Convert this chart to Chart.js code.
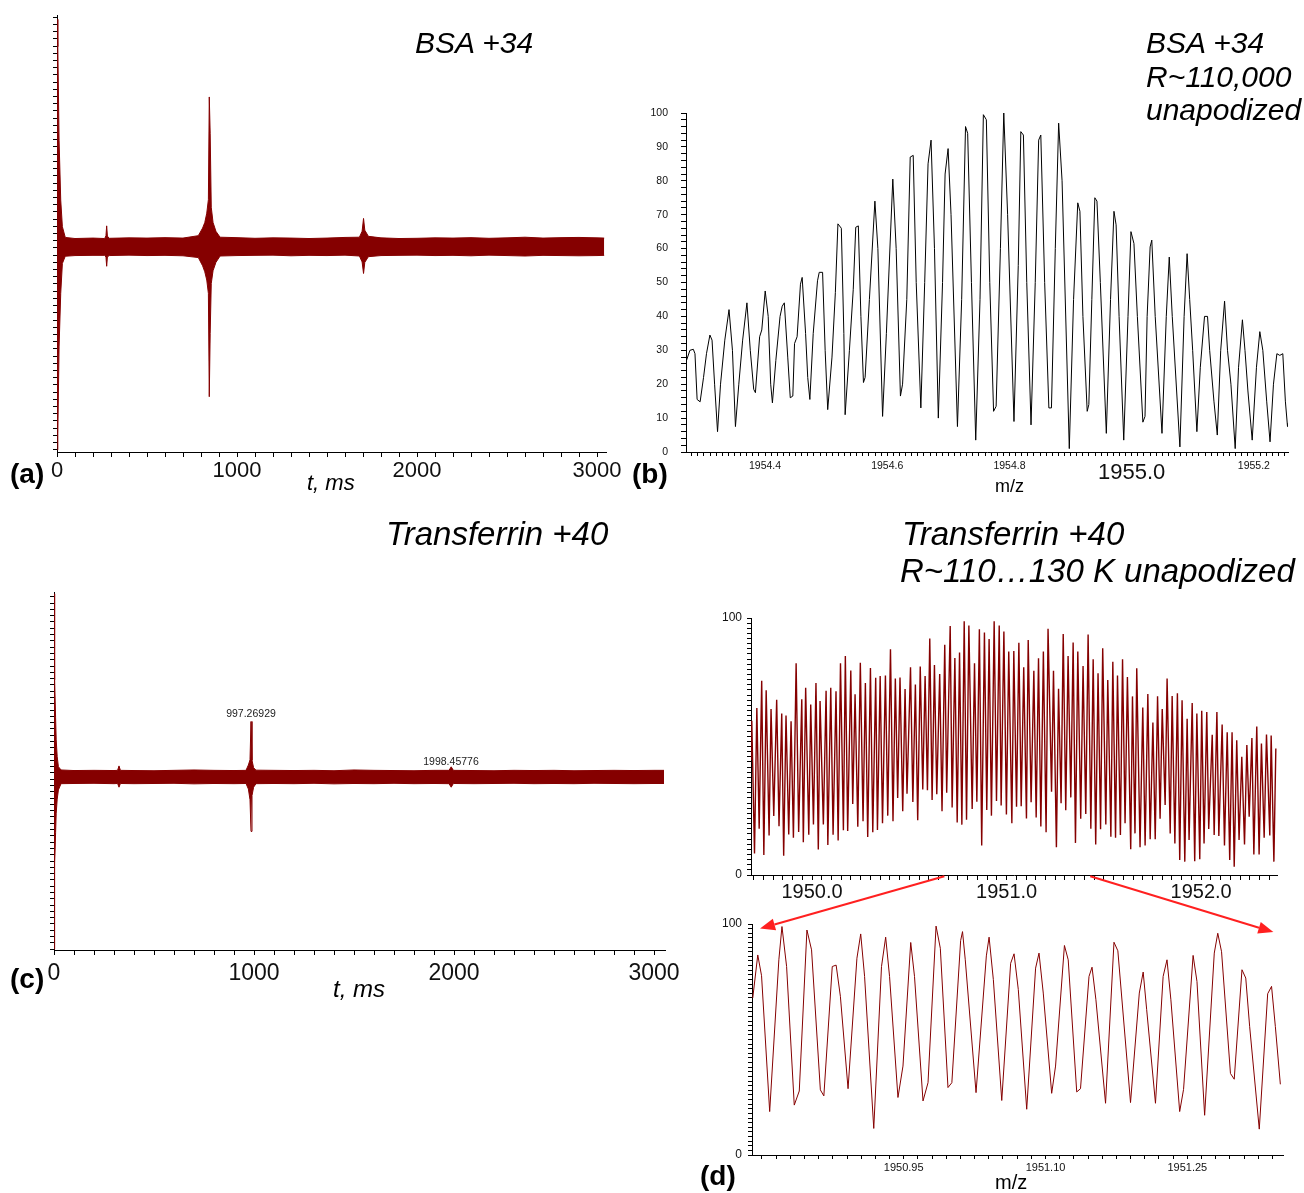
<!DOCTYPE html>
<html>
<head>
<meta charset="utf-8">
<script src="https://cdn.jsdelivr.net/npm/chart.js@4.4.1/dist/chart.umd.min.js"></script>
<style>
  body { margin: 0; background: #fff; }
  #page { position: relative; width: 1304px; height: 1193px; overflow: hidden; font-family: "Liberation Sans", Arial, sans-serif; }
  canvas { position: absolute; }
  .t { position: absolute; line-height: 1; white-space: nowrap; color: #000; }
  .it { font-style: italic; }
  .b { font-weight: bold; }
</style>
</head>
<body>
<div id="page">
  <canvas id="cA" width="640" height="500" style="left:0;top:0"></canvas>
  <canvas id="cB" width="670" height="410" style="left:630px;top:90px"></canvas>
  <canvas id="cC" width="700" height="430" style="left:0;top:570px"></canvas>
  <canvas id="cD1" width="600" height="310" style="left:700px;top:600px"></canvas>
  <canvas id="cD2" width="600" height="288" style="left:700px;top:905px"></canvas>
  <canvas id="overlay" width="1304" height="1193" style="left:0;top:0;pointer-events:none"></canvas>

  <div class="t it" style="left:415px;top:27.6px;font-size:30px">BSA +34</div>
  <div class="t it" style="left:1146px;top:27.6px;font-size:30px">BSA +34</div>
  <div class="t it" style="left:1146px;top:61.6px;font-size:30px">R~110,000</div>
  <div class="t it" style="left:1146px;top:94.6px;font-size:30px">unapodized</div>
  <div class="t it" style="left:386px;top:517px;font-size:33px">Transferrin +40</div>
  <div class="t it" style="left:902px;top:517px;font-size:33px">Transferrin +40</div>
  <div class="t it" style="left:900px;top:554px;font-size:33px">R~110…130 K unapodized</div>

  <div class="t b" style="left:10px;top:460px;font-size:28px">(a)</div>
  <div class="t b" style="left:632px;top:460px;font-size:28px">(b)</div>
  <div class="t b" style="left:10px;top:965px;font-size:28px">(c)</div>
  <div class="t b" style="left:700px;top:1162px;font-size:28px">(d)</div>

  <div class="t it" style="left:307px;top:472px;font-size:22px">t, ms</div>
  <div class="t it" style="left:333px;top:977px;font-size:24px">t, ms</div>
  <div class="t" style="left:995px;top:477px;font-size:18px">m/z</div>
  <div class="t" style="left:995px;top:1172px;font-size:20px">m/z</div>
</div>

<script>
"use strict";

const FONT = '"Liberation Sans", Arial, sans-serif';
const MAROON = '#850000';

// (a) BSA +34 transient: envelope of the noise band, time in ms
const aTimeMs = [0, 4.6, 11.5, 20.7, 29.9, 46, 100, 200, 265, 272, 276, 280, 290, 400, 500, 600, 700, 785,
  809, 821, 832, 841, 846, 851, 857, 867, 883, 906, 1000, 1100, 1200, 1300, 1400, 1500, 1600,
  1680, 1695, 1703, 1710, 1730, 1800, 1900, 2000, 2100, 2200, 2300, 2400, 2500, 2600, 2700, 2800, 2900, 3000, 3040];
const aUpper = [104, 91.5, 48.7, 21.3, 9.1, 4.2, 3.7, 3.9, 3.7, 5.0, 9.5, 4.8, 3.8, 4.0, 3.9, 4.1, 3.9, 5.0,
  8.5, 11.0, 15.3, 21.5, 68.5, 51.9, 18.0, 11.0, 7.0, 4.3, 4.1, 3.8, 4.0, 3.9, 3.7, 3.9, 4.2,
  4.3, 7.0, 12.9, 7.5, 4.7, 4.0, 3.7, 3.8, 4.0, 3.9, 4.1, 3.8, 4.0, 4.3, 3.9, 4.1, 4.2, 4.0, 3.9];
const aLower = [-93, -85.5, -45.9, -21.4, -7.7, -4.4, -4.1, -4.0, -4.0, -4.8, -9.0, -4.7, -4.1, -3.9, -4.1, -4.0, -4.2, -5.0,
  -8.8, -11.5, -15.3, -21.4, -68.7, -39.7, -16.9, -11.0, -7.2, -4.3, -4.1, -4.0, -3.9, -4.2, -4.0, -4.1, -3.9,
  -4.3, -7.0, -12.3, -7.2, -4.6, -4.1, -4.0, -3.9, -4.1, -4.0, -4.2, -3.9, -4.1, -4.3, -4.0, -4.1, -4.2, -4.1, -4.0];

// (c) Transferrin +40 transient envelope
const cTimeMs = [0, 2, 4.4, 8, 11, 16, 22, 35, 100, 200, 300, 318, 325, 332, 400, 500, 600, 700, 800, 900,
  960, 972, 980, 985, 990, 998, 1010, 1100, 1200, 1300, 1400, 1500, 1600, 1700, 1800, 1900,
  1975, 1986, 1997, 2100, 2200, 2300, 2400, 2500, 2600, 2700, 2800, 2900, 3000, 3050];
const cUpper = [99, 75, 52.5, 32, 20.1, 11, 5.6, 3.8, 3.5, 3.6, 3.5, 3.6, 6.0, 3.6, 3.5, 3.4, 3.6, 3.8, 3.6, 3.5,
  3.6, 6.5, 9.3, 30.0, 9.0, 5.0, 3.7, 3.6, 3.5, 3.6, 3.4, 3.8, 3.6, 3.5, 3.4, 3.6,
  3.6, 5.5, 3.6, 3.5, 3.4, 3.6, 3.5, 3.6, 3.4, 3.5, 3.6, 3.5, 3.6, 3.6];
const cLower = [-93, -72, -46.6, -30, -19.6, -12, -7.0, -3.6, -3.5, -3.4, -3.6, -3.5, -5.5, -3.5, -3.6, -3.5, -3.4, -3.7, -3.5, -3.6,
  -3.5, -6.5, -12.3, -29.4, -10, -5.5, -3.6, -3.5, -3.6, -3.4, -3.7, -3.5, -3.6, -3.4, -3.6, -3.5,
  -3.6, -5.5, -3.5, -3.6, -3.5, -3.4, -3.6, -3.5, -3.6, -3.4, -3.5, -3.6, -3.5, -3.5];
const cPeakTimes = [985, 1985];
const cPeakLevels = [34, 8.1];
const cPeakTexts = ['997.26929', '1998.45776'];

// (b) BSA +34 spectrum
const bMz = [
  1954.2715, 1954.2771, 1954.2827, 1954.2854, 1954.2889, 1954.2938, 1954.2994, 1954.3042, 1954.3098, 1954.3133,
  1954.3175, 1954.3223, 1954.3272, 1954.3342, 1954.3411, 1954.3467, 1954.3516, 1954.3571, 1954.3634, 1954.3704,
  1954.3759, 1954.3815, 1954.3843, 1954.3912, 1954.3947, 1954.4003, 1954.4052, 1954.4093, 1954.4121, 1954.4177,
  1954.4246, 1954.4281, 1954.4316, 1954.4372, 1954.4413, 1954.4455, 1954.4483, 1954.4525, 1954.4580, 1954.4608,
  1954.4664, 1954.4699, 1954.4734, 1954.4789, 1954.4859, 1954.4887, 1954.4942, 1954.4984, 1954.5026, 1954.5096,
  1954.5151, 1954.5193, 1954.5249, 1954.5290, 1954.5311, 1954.5381, 1954.5444, 1954.5485, 1954.5527, 1954.5569,
  1954.5611, 1954.5638, 1954.5708, 1954.5798, 1954.5847, 1954.5924, 1954.5986, 1954.6091, 1954.6146, 1954.6216,
  1954.6251, 1954.6320, 1954.6376, 1954.6425, 1954.6474, 1954.6550, 1954.6613, 1954.6668, 1954.6717, 1954.6773,
  1954.6836, 1954.6905, 1954.6947, 1954.6996, 1954.7044, 1954.7149, 1954.7218, 1954.7281, 1954.7316, 1954.7378,
  1954.7448, 1954.7518, 1954.7573, 1954.7622, 1954.7678, 1954.7740, 1954.7782, 1954.7852, 1954.7907, 1954.7970,
  1954.8074, 1954.8144, 1954.8186, 1954.8228, 1954.8283, 1954.8353, 1954.8422, 1954.8478, 1954.8513, 1954.8576,
  1954.8645, 1954.8687, 1954.8750, 1954.8805, 1954.8861, 1954.8979, 1954.9049, 1954.9118, 1954.9153, 1954.9202,
  1954.9272, 1954.9299, 1954.9348, 1954.9397, 1954.9432, 1954.9487, 1954.9585, 1954.9654, 1954.9710, 1954.9745,
  1954.9794, 1954.9870, 1954.9940, 1954.9988, 1955.0037, 1955.0093, 1955.0183, 1955.0218, 1955.0253, 1955.0302,
  1955.0329, 1955.0385, 1955.0496, 1955.0566, 1955.0615, 1955.0664, 1955.0789, 1955.0858, 1955.0907, 1955.0949,
  1955.0998, 1955.1067, 1955.1123, 1955.1192, 1955.1241, 1955.1276, 1955.1346, 1955.1401, 1955.1457, 1955.1520,
  1955.1568, 1955.1624, 1955.1694, 1955.1749, 1955.1812, 1955.1854, 1955.1902, 1955.1972, 1955.2042, 1955.2097,
  1955.2146, 1955.2209, 1955.2264, 1955.2320, 1955.2376, 1955.2424, 1955.2473, 1955.2515, 1955.2550, 1955.2555];
const bIntensity = [
  27, 30, 30.3, 29, 15.5, 14.8, 22, 29, 34.5, 33,
  20, 6, 20, 33, 42, 30, 7.5, 20, 33, 44,
  30, 18.5, 17.5, 34, 36, 47.5, 40, 20, 14.5, 27,
  40, 43, 44, 28, 16, 16.5, 32, 34, 49.5, 51.5,
  35, 22, 15.5, 35, 50.5, 53, 53, 30, 12.5, 28,
  47, 67.3, 66, 35, 11, 30, 48, 66.3, 66.7, 40,
  20.5, 22, 45, 74, 60, 10.5, 35, 80.5, 60, 16.5,
  20, 45, 87, 87.5, 50, 13, 50, 85, 92, 60,
  10, 50, 82, 89.5, 70, 7.5, 45, 96, 94, 50,
  3.5, 45, 99.5, 98, 50, 12, 13.5, 60, 100, 70,
  9, 55, 94.5, 93.5, 50, 8, 50, 92, 93.5, 50,
  13, 13, 60, 97, 80, 1, 45, 73.5, 71, 40,
  12, 14, 45, 75, 74, 50, 5.5, 45, 71, 67,
  40, 3.5, 40, 65, 61.5, 40, 8.8, 10.5, 40, 60.5,
  62.5, 40, 5.5, 40, 57.5, 40, 1.5, 40, 58.5, 45,
  30, 6, 25, 40, 40, 30, 15, 5, 30, 44.5,
  30, 20, 1, 25, 39, 30, 18, 3.5, 25, 35.5,
  30, 15, 3, 20, 29, 28.5, 29, 15, 7.5, 8.5];

// (d) Transferrin +40 spectrum, wide view
const dTopMz = [
  1949.687, 1949.690, 1949.704, 1949.716, 1949.728, 1949.741, 1949.752, 1949.764, 1949.779, 1949.789,
  1949.803, 1949.818, 1949.830, 1949.844, 1949.854, 1949.866, 1949.880, 1949.892, 1949.904, 1949.918,
  1949.931, 1949.947, 1949.955, 1949.967, 1949.983, 1949.993, 1950.007, 1950.020, 1950.032, 1950.041,
  1950.058, 1950.072, 1950.081, 1950.096, 1950.108, 1950.123, 1950.134, 1950.146, 1950.161, 1950.171,
  1950.183, 1950.199, 1950.209, 1950.221, 1950.235, 1950.248, 1950.262, 1950.274, 1950.286, 1950.300,
  1950.312, 1950.327, 1950.336, 1950.350, 1950.362, 1950.377, 1950.389, 1950.403, 1950.416, 1950.428,
  1950.440, 1950.452, 1950.466, 1950.478, 1950.488, 1950.506, 1950.518, 1950.531, 1950.543, 1950.556,
  1950.569,
  1950.581, 1950.593, 1950.605, 1950.617, 1950.629, 1950.641, 1950.656, 1950.668, 1950.682, 1950.692,
  1950.710, 1950.720, 1950.734, 1950.746, 1950.758, 1950.770, 1950.782, 1950.794, 1950.806, 1950.823,
  1950.835, 1950.847, 1950.860, 1950.872, 1950.886, 1950.898, 1950.910, 1950.922, 1950.936, 1950.948,
  1950.962, 1950.972, 1950.986, 1950.999, 1951.011, 1951.027, 1951.037, 1951.051, 1951.063, 1951.075,
  1951.088, 1951.102, 1951.111, 1951.126, 1951.140, 1951.152, 1951.164, 1951.176, 1951.189, 1951.203,
  1951.213, 1951.231, 1951.241, 1951.256, 1951.267, 1951.280, 1951.291, 1951.304, 1951.316, 1951.330,
  1951.342, 1951.354, 1951.366, 1951.381, 1951.393, 1951.407, 1951.419, 1951.433, 1951.445, 1951.458,
  1951.470, 1951.483,
  1951.494, 1951.510, 1951.520, 1951.536, 1951.546, 1951.560, 1951.570, 1951.585, 1951.596, 1951.609,
  1951.621, 1951.638, 1951.647, 1951.660, 1951.669, 1951.686, 1951.700, 1951.712, 1951.726, 1951.738,
  1951.752, 1951.764, 1951.776, 1951.789, 1951.800, 1951.815, 1951.825, 1951.841, 1951.851, 1951.865,
  1951.878, 1951.890, 1951.902, 1951.916, 1951.928, 1951.938, 1951.954, 1951.967, 1951.978, 1951.993,
  1952.003, 1952.015, 1952.029, 1952.039, 1952.057, 1952.067, 1952.081, 1952.091, 1952.108, 1952.120,
  1952.134, 1952.147, 1952.159, 1952.170, 1952.183, 1952.195, 1952.209, 1952.223, 1952.235, 1952.247,
  1952.261, 1952.271, 1952.286, 1952.298, 1952.310, 1952.324, 1952.336, 1952.353, 1952.360, 1952.374,
  1952.384];
const dTopIntensity = [
  45, 60, 8.4, 65, 18, 75.6, 7.8, 71.9, 15.4, 64.6,
  23, 68.2, 19, 62.8, 7.5, 62.1, 15.8, 59.8, 14.5, 82.4,
  16.7, 68.4, 12.7, 72.9, 15.7, 66.3, 19.7, 74.7, 9.9, 67.7,
  19.7, 71.7, 11.7, 72.9, 15.7, 71.5, 13.4, 82.4, 17.4, 85.2,
  17.1, 79.6, 27.6, 70.3, 18.8, 82.6, 20.9, 74.7, 14.8, 80.5,
  16.6, 76.7, 17.5, 77.4, 20.1, 77.6, 23.1, 87.8, 20.9, 76.5,
  30, 76.8, 24.8, 72.4, 31.6, 80.8, 28.4, 74.1, 21.3, 81.1,
  33.3,
  77.4, 33, 92, 29.2, 81.7, 31.4, 78.2, 24.8, 89.6, 32,
  96.9, 26.3, 84.4, 20.4, 86.6, 19.6, 98.7, 21.5, 97.1, 25.7,
  82.4, 28.5, 95.6, 11.5, 94.4, 25.3, 91.8, 23.1, 98.7, 28.8,
  97.1, 27, 94.7, 23.5, 87, 20.1, 87.2, 26.6, 90.4, 26.8,
  80.8, 22, 91.4, 28.3, 79.5, 22.4, 84.3, 18.9, 87, 16.6,
  95.8, 32.4, 79.5, 10.8, 72.5, 27.9, 93.8, 25.2, 85.2, 30.2,
  90.5, 12.5, 87, 21.9, 81.3, 23.7, 93.6, 18, 83.9, 11.9,
  78.5, 17.8,
  88.2, 19.7, 75.9, 14.9, 83, 14.5, 77.6, 15.6, 83.9, 20.1,
  77, 10, 69.5, 16.2, 80.4, 10.8, 65.2, 11.5, 70.4, 13.9,
  59.3, 13.9, 69.5, 21.9, 64.6, 27.2, 76.5, 16.2, 69.6, 12.3,
  70.7, 5.8, 68, 5.2, 60.8, 13.6, 66.9, 5.4, 62.8, 6.1,
  63.9, 12.3, 63.4, 17.9, 54.6, 15.6, 63.4, 15.2, 58.6, 11.5,
  55.5, 5.8, 55.5, 3.2, 52.4, 13.6, 46, 11.9, 50.6, 22.7,
  53.3, 8, 57.8, 8, 51.2, 14.5, 54.7, 15.4, 54.3, 5.2,
  49.2];

// (d) Transferrin +40 spectrum, zoomed view
const dBotMz = [
  1950.7903, 1950.7956, 1950.7996, 1950.8082, 1950.8179, 1950.8212, 1950.8261, 1950.8342, 1950.8395, 1950.8476,
  1950.8525, 1950.8618, 1950.8655, 1950.8744, 1950.8785, 1950.8830, 1950.8911, 1950.9005, 1950.9045, 1950.9086,
  1950.9183, 1950.9265, 1950.9309, 1950.9350, 1950.9439, 1950.9492, 1950.9574, 1950.9614, 1950.9704, 1950.9757,
  1950.9842, 1950.9887, 1950.9968, 1951.0009, 1951.0102, 1951.0122, 1951.0151, 1951.0265, 1951.0374, 1951.0403,
  1951.0448, 1951.0537, 1951.0631, 1951.0667, 1951.0712, 1951.0801, 1951.0895, 1951.0931, 1951.0976, 1951.1065,
  1951.1106, 1951.1200, 1951.1240, 1951.1330, 1951.1370, 1951.1460, 1951.1492, 1951.1533, 1951.1635, 1951.1724,
  1951.1765, 1951.1899, 1951.1992, 1951.2033, 1951.2070, 1951.2163, 1951.2244, 1951.2285, 1951.2326, 1951.2419,
  1951.2460, 1951.2561, 1951.2602, 1951.2683, 1951.2785, 1951.2822, 1951.2862, 1951.2956, 1951.2996, 1951.3078,
  1951.3118, 1951.3159, 1951.3261, 1951.3350, 1951.3391, 1951.3431, 1951.3484];
const dBotIntensity = [
  68, 86.6, 77.6, 18.8, 84.5, 98.9, 81.6, 21.6, 27.7, 97.4,
  88.8, 28.2, 25.6, 81.6, 82.2, 68.7, 28.7, 85.2, 95.7, 77.3,
  11.5, 81.6, 94.3, 77.3, 24.9, 38.5, 92, 77.3, 23.4, 31.3,
  99.1, 89.5, 29.2, 31.3, 92.8, 96.7, 84.5, 27, 86.2, 94.3,
  75.9, 23.6, 83, 87.1, 71.6, 19.8, 80.9, 87.4, 70.1, 26.7,
  38.5, 90.7, 84.5, 27.3, 28.7, 77.3, 81.3, 67.2, 22.4, 92.1,
  88.4, 22.7, 70.1, 79.2, 62.9, 22.4, 77.3, 84.5, 67.2, 18.8,
  28.4, 86.4, 75.1, 17.2, 87.4, 96, 88, 35.3, 32.8, 80.2,
  76.6, 55.7, 11.2, 69.8, 73, 55.7, 30.6];

// labelled ticks
const aTimeLabels = [0, 1000, 2000, 3000];
const bMzLabels = [1954.4, 1954.6, 1954.8, 1955.0, 1955.2];
const bIntensityLabels = [0, 10, 20, 30, 40, 50, 60, 70, 80, 90, 100];
const dTopMzLabels = [1950, 1951, 1952];
const dBotMzLabels = [1950.95, 1951.10, 1951.25];
const dIntensityLabels = [0, 100];

// arrows: from m/z on the wide axis to points in the zoomed panel
const arrowFromMz = [1950.68, 1951.43];
const arrowToMz = [1950.798, 1951.341];
const arrowToLevel = [98, 96.5];

function steps(from, to, step, digits) {
  const out = [];
  const n = Math.round((to - from) / step);
  for (let i = 0; i <= n; i++) out.push(+(from + i * step).toFixed(digits));
  return out;
}

function pts(xs, ys) {
  return xs.map((x, i) => ({ x: x, y: ys[i] }));
}

function hasLabel(list, v) {
  return list.some(l => Math.abs(l - v) < 1e-6);
}

function axis(o) {
  const horizontal = o.kind === 'x';
  return {
    type: 'linear',
    position: horizontal ? 'bottom' : 'left',
    min: o.min,
    max: o.max,
    afterBuildTicks: s => { s.ticks = o.ticks.map(v => ({ value: v })); },
    afterFit: s => { if (horizontal) s.height = o.size; else s.width = o.size; },
    border: { display: true, color: '#000', width: 1 },
    grid: { drawOnChartArea: false, drawTicks: true, tickLength: o.tickLength, color: '#000', lineWidth: 1 },
    ticks: {
      autoSkip: false,
      maxRotation: 0,
      minRotation: 0,
      padding: o.padding,
      color: '#111',
      font: o.font,
      callback: v => hasLabel(o.labels, v) ? v.toFixed(o.digits) : ''
    }
  };
}

function baseOptions(padding, scales) {
  return {
    responsive: false,
    animation: false,
    events: [],
    layout: { padding: padding },
    plugins: { legend: { display: false }, tooltip: { enabled: false } },
    elements: { point: { radius: 0 }, line: { tension: 0 } },
    scales: scales
  };
}

function band(times, upper, lower) {
  return [
    { data: pts(times, upper), borderColor: MAROON, backgroundColor: MAROON, borderWidth: 1, fill: '+1' },
    { data: pts(times, lower), borderColor: MAROON, borderWidth: 1, fill: false }
  ];
}

// (a)
const chartA = new Chart(document.getElementById('cA'), {
  type: 'line',
  data: { datasets: band(aTimeMs, aUpper, aLower) },
  options: baseOptions({ left: 0, top: 15, right: 34, bottom: 0 }, {
    x: axis({ kind: 'x', min: 0, max: 3050, ticks: steps(0, 3000, 100, 0), labels: aTimeLabels, digits: 0,
      size: 48, tickLength: 5, padding: 1, font: { family: FONT, size: 22 } }),
    y: axis({ kind: 'y', min: -94, max: 106, ticks: steps(-93, 105, 3.3, 2), labels: [], digits: 0,
      size: 57, tickLength: 4, padding: 2, font: { family: FONT, size: 10 } })
  })
});

// (c)
const peakLabelPlugin = {
  id: 'peakLabels',
  afterDatasetsDraw(chart) {
    const ctx = chart.ctx;
    ctx.save();
    ctx.font = '10.5px ' + FONT;
    ctx.fillStyle = '#222';
    ctx.textAlign = 'center';
    ctx.textBaseline = 'middle';
    cPeakTexts.forEach((txt, i) => {
      ctx.fillText(txt, chart.scales.x.getPixelForValue(cPeakTimes[i]), chart.scales.y.getPixelForValue(cPeakLevels[i]));
    });
    ctx.restore();
  }
};

const chartC = new Chart(document.getElementById('cC'), {
  type: 'line',
  data: { datasets: band(cTimeMs, cUpper, cLower) },
  options: baseOptions({ left: 0, top: 22, right: 35, bottom: 0 }, {
    x: axis({ kind: 'x', min: 0, max: 3055, ticks: steps(0, 3000, 100, 0), labels: aTimeLabels, digits: 0,
      size: 50, tickLength: 5, padding: 5, font: { family: FONT, size: 23 } }),
    y: axis({ kind: 'y', min: -93.5, max: 100, ticks: steps(-93, 97.4, 3.4, 2), labels: [], digits: 0,
      size: 54, tickLength: 4, padding: 2, font: { family: FONT, size: 10 } })
  }),
  plugins: [peakLabelPlugin]
});

// (b)
const chartB = new Chart(document.getElementById('cB'), {
  type: 'line',
  data: { datasets: [{ data: pts(bMz, bIntensity), borderColor: '#000', borderWidth: 1, fill: false }] },
  options: baseOptions({ left: 0, top: 23, right: 12, bottom: 0 }, {
    x: axis({ kind: 'x', min: 1954.2707, max: 1955.2558, ticks: steps(1954.28, 1955.25, 0.01, 2), labels: bMzLabels, digits: 1,
      size: 48, tickLength: 4, padding: 4,
      font: c => (c.tick && Math.abs(c.tick.value - 1955) < 1e-6) ? { family: FONT, size: 22 } : { family: FONT, size: 10.5 } }),
    y: axis({ kind: 'y', min: 0, max: 100, ticks: steps(0, 100, 2, 0), labels: bIntensityLabels, digits: 0,
      size: 56, tickLength: 5, padding: 13, font: { family: FONT, size: 10.5 } })
  })
});

// (d) wide
const chartD1 = new Chart(document.getElementById('cD1'), {
  type: 'line',
  data: { datasets: [{ data: pts(dTopMz, dTopIntensity), borderColor: MAROON, borderWidth: 1.4, fill: false }] },
  options: baseOptions({ left: 0, top: 18, right: 23, bottom: 0 }, {
    x: axis({ kind: 'x', min: 1949.686, max: 1952.390, ticks: steps(1949.70, 1952.35, 0.05, 2), labels: dTopMzLabels, digits: 1,
      size: 35, tickLength: 5, padding: 0, font: { family: FONT, size: 20 } }),
    y: axis({ kind: 'y', min: 0, max: 100, ticks: steps(0, 100, 2, 0), labels: dIntensityLabels, digits: 0,
      size: 51, tickLength: 4, padding: 5, font: { family: FONT, size: 12 } })
  })
});

// (d) zoomed
const chartD2 = new Chart(document.getElementById('cD2'), {
  type: 'line',
  data: { datasets: [{ data: pts(dBotMz, dBotIntensity), borderColor: MAROON, borderWidth: 1, fill: false }] },
  options: baseOptions({ left: 0, top: 19, right: 17, bottom: 0 }, {
    x: axis({ kind: 'x', min: 1950.7895, max: 1951.3512, ticks: steps(1950.80, 1951.34, 0.015, 3), labels: dBotMzLabels, digits: 2,
      size: 38, tickLength: 4, padding: 2, font: { family: FONT, size: 11 } }),
    y: axis({ kind: 'y', min: 0, max: 100, ticks: steps(0, 100, 2, 0), labels: dIntensityLabels, digits: 0,
      size: 52, tickLength: 4, padding: 6, font: { family: FONT, size: 12 } })
  })
});

// red arrows linking the wide and zoomed views
function drawArrows() {
  const ov = document.getElementById('overlay');
  const ctx = ov.getContext('2d');
  const c1 = chartD1.canvas, c2 = chartD2.canvas;
  ctx.strokeStyle = '#ff2020';
  ctx.fillStyle = '#ff2020';
  ctx.lineWidth = 2;
  arrowFromMz.forEach((mz, i) => {
    const x0 = c1.offsetLeft + chartD1.scales.x.getPixelForValue(mz);
    const y0 = c1.offsetTop + chartD1.scales.y.getPixelForValue(-0.5);
    const x1 = c2.offsetLeft + chartD2.scales.x.getPixelForValue(arrowToMz[i]);
    const y1 = c2.offsetTop + chartD2.scales.y.getPixelForValue(arrowToLevel[i]);
    const ang = Math.atan2(y1 - y0, x1 - x0);
    const head = 15, half = 6;
    const bx = x1 - head * Math.cos(ang), by = y1 - head * Math.sin(ang);
    ctx.beginPath();
    ctx.moveTo(x0, y0);
    ctx.lineTo(bx, by);
    ctx.stroke();
    ctx.beginPath();
    ctx.moveTo(x1, y1);
    ctx.lineTo(bx + half * Math.sin(ang), by - half * Math.cos(ang));
    ctx.lineTo(bx - half * Math.sin(ang), by + half * Math.cos(ang));
    ctx.closePath();
    ctx.fill();
  });
}
drawArrows();
</script>
</body>
</html>
